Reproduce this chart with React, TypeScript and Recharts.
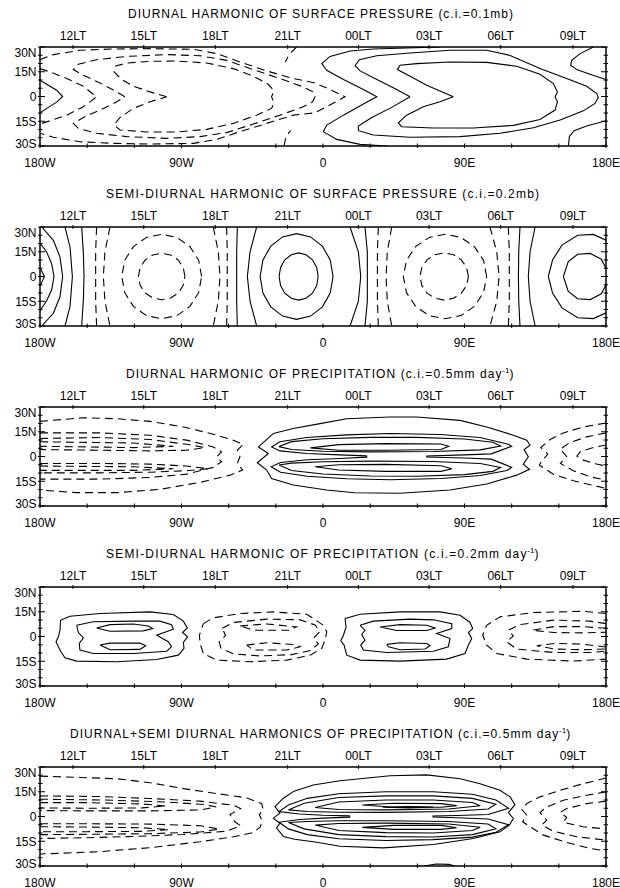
import React from 'react';
import { ComposedChart, Line, XAxis, YAxis } from 'recharts';

type C = number[][];

const FONT = '"Liberation Sans", Arial, sans-serif';

// ---------- axes ----------
const LON_TICKS = [-180, -150, -120, -90, -60, -30, 0, 30, 60, 90, 120, 150, 180];
const LON_LABELS: Record<string, string> = { '-180': '180W', '-90': '90W', '0': '0', '90': '90E', '180': '180E' };
const LT_TICKS = [-159, -114, -68.5, -22.5, 22.5, 67.5, 113, 159];
const LT_LABELS = ['12LT', '15LT', '18LT', '21LT', '00LT', '03LT', '06LT', '09LT'];
const LAT_TICKS = [-30, -25, -20, -15, -10, -5, 0, 5, 10, 15, 20, 25, 30];
const LAT_LABELS: Record<string, string> = { '30': '30N', '15': '15N', '0': '0', '-15': '15S', '-30': '30S' };

// ---------- titles ----------
const TITLES = [
  'DIURNAL HARMONIC OF SURFACE PRESSURE (c.i.=0.1mb)',
  'SEMI-DIURNAL HARMONIC OF SURFACE PRESSURE (c.i.=0.2mb)',
  'DIURNAL HARMONIC OF PRECIPITATION (c.i.=0.5mm day',
  'SEMI-DIURNAL HARMONIC OF PRECIPITATION (c.i.=0.2mm day',
  'DIURNAL+SEMI DIURNAL HARMONICS OF PRECIPITATION (c.i.=0.5mm day',
];
const TITLE_X = [128, 106, 126, 106, 70];
const TITLE_LEN = [385, 433, 375.5, 420.5, 488.3];
const TITLE_SUP = [false, false, true, true, true];

// ---------- panel 1 : diurnal surface pressure ----------
const p1SolidLeft: C = [[-180, 9.9], [-174.7, 6.8], [-169.4, 3.8], [-165.6, 0], [-169.4, -3.4], [-174.7, -6.6], [-180, -9.9]];
const p1Solid1: C = [[74.4, 30], [53.2, 29.4], [32, 28.8], [17.2, 27.6], [4.5, 24.3], [-0.8, 19.9], [2.4, 15.9], [13, 10.3], [25.7, 4.2], [34.2, -0.2], [25.7, -4.6], [13, -11.3], [2.4, -17.3], [0.2, -21.3], [8.7, -26], [23.6, -29], [40.5, -30]];
const p1Solid2: C = [[55.4, -0.2], [46.9, 4.2], [35.2, 9.9], [23.6, 15.5], [20.4, 18.7], [23.1, 22.3], [34.2, 24.7], [55.4, 26.4], [80.8, 28], [104.1, 28], [119, 24.9], [138, 16.9], [155, 10.9], [167.7, 6.2], [174.1, 1.8], [175.1, -0.6], [173, -4.2], [165.6, -8.7], [150.8, -14.3], [133.8, -18.9], [112.6, -22.3], [87.2, -24.3], [55.4, -24.7], [32, -23.3], [22.5, -20.7], [22.5, -17.9], [31, -12.7], [43.7, -6.6], [55.4, -0.2]];
const p1Solid3: C = [[82.9, -0.2], [74.4, 3.4], [66, 6.8], [55.4, 12.3], [47.3, 16.3], [49, 18.9], [59.6, 19.9], [80.8, 20.9], [104.1, 20.7], [123.2, 18.3], [138, 13.5], [146.5, 7.8], [149.1, 2.8], [147.6, -0.2], [149.1, -3.2], [147.6, -8.2], [138, -13.9], [121.1, -17.5], [95.6, -19.1], [70.2, -19.1], [50, -18.3], [47.9, -15.9], [53.2, -11.3], [63.8, -6.2], [74.4, -3.2], [82.9, -0.2]];
const p1SolidR1: C = [[172, 30], [163.5, 26], [158.2, 21.9], [157.5, 18.9], [161.4, 16.3], [169.8, 13.5], [180, 10.3]];
const p1SolidR2: C = [[156.1, -30], [156.7, -24.3], [159.7, -20.7], [167.7, -17.9], [180, -14.7]];
const p1Dash0: C = [[-180, 22.3], [-171.5, 25.4], [-154.6, 28], [-133.4, 28.8], [-110, 29], [-82.5, 28.6], [-67.6, 26], [-52.8, 20.9], [-35.8, 15.5], [-18.9, 10.9], [-5.1, 8.2], [5.5, 3.8], [14, -0.2], [5.5, -4.6], [-5.1, -9.9], [-18.9, -11.3], [-35.8, -16.3], [-52.8, -21.3], [-67.6, -26], [-82.5, -28.4], [-110, -28.8], [-133.4, -28.4], [-154.6, -27.4], [-171.5, -24.7], [-180, -22.3]];
const p1DashA: C = [[-180, 16.9], [-173.6, 14.9], [-163, 10.9], [-152.4, 6.2], [-144, -0.2], [-152.4, -6.2], [-163, -11.3], [-173.6, -14.7], [-180, -16.7]];
const p1DashB: C = [[-126, -0.2], [-132.3, 3.4], [-141.8, 8.2], [-152.4, 12.9], [-158.8, 16.3], [-155.6, 19.5], [-144, 22.3], [-124.9, 24.3], [-99.4, 25.4], [-78.2, 24.7], [-61.3, 21.9], [-44.3, 16.3], [-27.4, 10.9], [-13.6, 6.2], [-6.2, 2.8], [-5.1, -0.2], [-6.6, -3.2], [-13.6, -6.6], [-27.4, -11.3], [-44.3, -16.7], [-61.3, -21.9], [-78.2, -24.3], [-99.4, -25.4], [-124.9, -24.3], [-144, -22.3], [-155.6, -19.3], [-158.8, -16.3], [-152.4, -12.7], [-141.8, -8.2], [-132.3, -3.8], [-126, -0.2]];
const p1DashC: C = [[-99.4, -0.2], [-110, 2.8], [-120.6, 6.2], [-128, 10.3], [-132.9, 14.9], [-132.3, 18.3], [-124.9, 20.3], [-110, 21.3], [-93.1, 21.5], [-74, 20.3], [-57, 16.9], [-44.3, 12.3], [-34.8, 7.4], [-31.2, 3.4], [-32.7, -0.2], [-31.2, -3.8], [-32.7, -7.2], [-42.2, -11.3], [-57, -16.3], [-74, -19.9], [-93.1, -21.5], [-112.2, -21.5], [-129.1, -20.3], [-132.9, -17.3], [-129.1, -12.7], [-120.6, -7.2], [-110, -3.2], [-99.4, -0.2]];
const p1DashTop: C = [[-16.8, 30], [-21.4, 25.6], [-24, 20.9]];
const p1DashBot: C = [[-24.8, -30], [-23.5, -24.3], [-20.6, -20.7]];

// ---------- panel 2 : semi-diurnal surface pressure ----------
const p2SolE1: C = [[-180, 5.4], [-177.2, 0], [-180, -5.8]];
const p2SolE2: C = [[-180, 20.3], [-175.8, 14.9], [-172.6, 7.8], [-171.1, 0], [-172.6, -8.2], [-175.8, -14.7], [-180, -20.7]];
const p2SolE3: C = [[-178.9, 30], [-171.5, 21.9], [-167.3, 11.9], [-165.6, 0], [-167.3, -12.3], [-171.5, -22.3], [-178.9, -30]];
const p2SolE4: C = [[-164.1, 30], [-160.9, 17.9], [-159.4, 0], [-160.9, -18.1], [-164.1, -30]];
const p2SolE5: C = [[-153.5, 30], [-152.4, 14], [-152, 0], [-152.4, -14], [-153.5, -30]];
const p2DashW4L: C = [[-144, 30], [-144.6, 15], [-144.6, 0], [-144.6, -15], [-144, -30]];
const p2DashW3L: C = [[-135.5, 30], [-138.7, 15], [-139.7, 0], [-138.7, -15], [-135.5, -30]];
const p2DashW2: C = [[-77.2, 0], [-79.1, 9.8], [-84.6, 18.1], [-92.9, 23.7], [-102.6, 25.6], [-112.3, 23.7], [-120.6, 18.1], [-126.1, 9.8], [-128, 0], [-126.1, -9.8], [-120.6, -18.1], [-112.3, -23.7], [-102.6, -25.6], [-92.9, -23.7], [-84.6, -18.1], [-79.1, -9.8], [-77.2, 0]];
const p2DashW1: C = [[-87.8, 0], [-88.9, 5.4], [-92.1, 10], [-96.9, 13], [-102.6, 14.1], [-108.3, 13], [-113.1, 10], [-116.3, 5.4], [-117.4, 0], [-116.3, -5.4], [-113.1, -10], [-108.3, -13], [-102.6, -14.1], [-96.9, -13], [-92.1, -10], [-88.9, -5.4], [-87.8, 0]];
const p2DashW3R: C = [[-69.8, 30], [-66.6, 15], [-65.5, 0], [-66.6, -15], [-69.8, -30]];
const p2DashW4R: C = [[-61.3, 30], [-60.9, 15], [-60.9, 0], [-60.9, -15], [-61.3, -30]];
const p2SolW4L: C = [[-54.5, 30], [-54.9, 15], [-54.9, 0], [-54.9, -15], [-54.5, -30]];
const p2SolW3L: C = [[-42.2, 30], [-46.4, 15], [-48.1, 0], [-46.4, -15], [-42.2, -30]];
const p2SolW2: C = [[6.4, 0], [4.6, 10], [-0.4, 18.4], [-7.9, 24], [-16.8, 26], [-25.7, 24], [-33.2, 18.4], [-38.2, 10], [-40, 0], [-38.2, -10], [-33.2, -18.4], [-25.7, -24], [-16.8, -26], [-7.9, -24], [-0.4, -18.4], [4.6, -10], [6.4, 0]];
const p2SolW1: C = [[-3.1, 0], [-4, 5.5], [-6.7, 10.1], [-10.8, 13.2], [-15.5, 14.3], [-20.2, 13.2], [-24.3, 10.1], [-27, 5.5], [-27.9, 0], [-27, -5.5], [-24.3, -10.1], [-20.2, -13.2], [-15.5, -14.3], [-10.8, -13.2], [-6.7, -10.1], [-4, -5.5], [-3.1, 0]];
const p2SolW3R: C = [[17.2, 30], [22.5, 15], [24, 0], [22.5, -15], [17.2, -30]];
const p2SolW4R: C = [[26.7, 30], [28.2, 15], [28.2, 0], [28.2, -15], [26.7, -30]];
const p2DashE4L: C = [[35.2, 30], [34.6, 15], [34.6, 0], [34.6, -15], [35.2, -30]];
const p2DashE3L: C = [[43.7, 30], [40.9, 15], [40.1, 0], [40.9, -15], [43.7, -30]];
const p2DashE2: C = [[104.1, 0], [102.1, 9.8], [96.3, 18.1], [87.7, 23.7], [77.6, 25.6], [67.5, 23.7], [58.9, 18.1], [53.1, 9.8], [51.1, 0], [53.1, -9.8], [58.9, -18.1], [67.5, -23.7], [77.6, -25.6], [87.7, -23.7], [96.3, -18.1], [102.1, -9.8], [104.1, 0]];
const p2DashE1: C = [[92.5, 0], [91.3, 5.5], [88, 10.1], [83, 13.2], [77.1, 14.3], [71.2, 13.2], [66.2, 10.1], [62.9, 5.5], [61.7, 0], [62.9, -5.5], [66.2, -10.1], [71.2, -13.2], [77.1, -14.3], [83, -13.2], [88, -10.1], [91.3, -5.5], [92.5, 0]];
const p2DashE3R: C = [[106.2, 30], [110.5, 15], [112, 0], [110.5, -15], [106.2, -30]];
const p2DashE4R: C = [[117.9, 30], [118.5, 15], [118.5, 0], [118.5, -15], [117.9, -30]];
const p2SolF4L: C = [[125.3, 30], [124.5, 15], [124.3, 0], [124.5, -15], [125.3, -30]];
const p2SolF3L: C = [[134.9, 30], [131.7, 15], [130.6, 0], [131.7, -15], [134.9, -30]];
const p2SolF2: C = [[180, 22], [172, 25.5], [162, 25], [152, 19], [146, 10], [143.3, 0], [146, -10], [152, -19], [162, -25], [172, -25.5], [180, -22]];
const p2SolF1: C = [[180, 5], [177, 10.5], [170, 14], [162, 13.5], [156, 9], [152.9, 0], [156, -9], [162, -13.5], [170, -14], [177, -10.5], [180, -5]];

// ---------- panel 3 : diurnal precipitation ----------
const p3Dash1: C = [[-180, 21.3], [-152.4, 23.5], [-131.2, 22.9], [-110, 21.3], [-88.8, 17.9], [-69.8, 13.5], [-57, 9.9], [-50.7, 7.4], [-54.5, 3.8], [-52.8, -0.2], [-54.5, -4.2], [-51.1, -8.2], [-59.2, -11.3], [-78.2, -15.7], [-103.7, -19.9], [-131.2, -21.9], [-156.7, -21.9], [-180, -20.3]];
const p3Dash2: C = [[-180, 14.3], [-141.8, 14.3], [-110, 12.9], [-86.7, 9.9], [-69.8, 5.8], [-64.5, 2.8], [-67.6, -0.2], [-64.5, -3.2], [-69.8, -6.6], [-86.7, -10.7], [-110, -12.7], [-141.8, -13.7], [-180, -13.7]];
const p3Dash3N: C = [[-180, 10.9], [-141.8, 11.5], [-110, 10.3], [-86.7, 7.4], [-75, 5.4], [-86.7, 3.8], [-110, 3.4], [-141.8, 3.8], [-180, 4.2]];
const p3Dash3S: C = [[-180, -4.2], [-141.8, -4.2], [-110, -4.6], [-86.7, -5.8], [-73, -7.4], [-86.7, -8.6], [-110, -9.5], [-141.8, -9.9], [-180, -9.9]];
const p3Dash4N: C = [[-180, 8.9], [-120.6, 8.2], [-95.2, 6.2], [-120.6, 5.4], [-180, 6.2]];
const p3Dash4S: C = [[-180, -5.8], [-120.6, -6.2], [-95.2, -7.4], [-120.6, -8.4], [-180, -8.4]];
const p3DashR1: C = [[180, 20.3], [165.6, 17.9], [152.9, 14.3], [144.4, 10.3], [138.5, 5.4], [143, 1.5], [139, -3], [137.6, -5.2], [146.5, -10.7], [159.2, -14.7], [180, -19.3]];
const p3DashR2: C = [[180, 14.3], [167.7, 11.9], [157.1, 8.5], [150.8, 4.4], [155, 0], [151, -4.2], [159.2, -8.6], [169.8, -12.3], [180, -14.3]];
const p3DashR3: C = [[180, 7], [171.9, 5.4], [163.5, 2.8], [161.5, 0.2], [165.6, -2.2], [174, -4.6], [180, -5.8]];
const p3Sol1: C = [[-31.6, 13.9], [-18.9, 17], [-1.9, 19.9], [15, 22.9], [42.6, 23.9], [59.6, 23.9], [87.2, 21.9], [104.1, 17.9], [121.1, 12.9], [129.6, 9.9], [131.7, 6.8], [127.9, 4.2], [130.6, -0.2], [127.4, -4.6], [131.3, -7.8], [123.2, -11.3], [104.1, -16.7], [80.8, -20.3], [49, -22.3], [20, -22], [2.3, -20.3], [-18.9, -17.3], [-32.7, -13.3], [-35.8, -8.2], [-41.8, -3.8], [-34.8, 1.8], [-41.1, 5.8], [-31.6, 13.9]];
const p3Sol2: C = [[27.8, 0.4], [10.8, 1], [-10.4, 1.8], [-27.4, 3.4], [-32.7, 5.8], [-27.4, 8.9], [-10.4, 11.5], [15, 13.1], [42.6, 13.9], [74.4, 13.3], [99.8, 11.5], [117.9, 7.4], [120, 6.2], [107, 1.6], [90, 1], [66, 0.3], [66, -0.3], [90, -0.9], [107, -1.6], [120, -6.6], [117, -8.5], [100, -11.5], [75, -13.3], [43, -14.1], [15, -13.5], [-10, -12], [-27, -9.5], [-33, -6.2], [-27, -3.6], [-10, -2], [11, -1.2], [27.8, -0.4], [27.8, 0.4]];
const p3Sol3N: C = [[-28, 6], [-20, 9], [0, 10.8], [30, 11.6], [60, 11.6], [90, 10.6], [108, 8.6], [113, 6.4], [100, 4], [70, 3], [30, 2.8], [0, 3.2], [-20, 4.2], [-28, 6]];
const p3Sol4N: C = [[-8, 5.2], [10, 7.2], [40, 7.8], [75, 7.6], [80, 6.2], [75, 4.2], [40, 3.8], [10, 3.8], [-8, 5.2]];
const p3Sol3S: C = [[-28, -5.2], [-20, -8.5], [0, -10.6], [30, -11.8], [60, -12], [90, -11], [108, -9], [113, -6.6], [100, -4.2], [70, -3], [30, -2.8], [0, -3.2], [-20, -4], [-28, -5.2]];
const p3Sol4S: C = [[-5, -6.2], [10, -8.2], [40, -9], [75, -9], [82, -7.4], [75, -5.6], [40, -4.8], [10, -5], [-5, -6.2]];

// ---------- panel 4 : semi-diurnal precipitation ----------
const p4SolW1: C = [[-166.9, 9.9], [-160.9, 12.3], [-141.8, 13.9], [-110, 14.9], [-95.2, 13.3], [-88.8, 9.3], [-86.3, 5.2], [-89.3, 2.4], [-86.1, -0.2], [-88.8, -3.6], [-88.4, -7.2], [-92, -11.3], [-105.8, -13.9], [-131.2, -15.3], [-156.7, -14.9], [-164.1, -12.9], [-166.9, -8.9], [-169.8, -3.2], [-168.3, -0.2], [-167.3, 3.8], [-166.9, 9.9]];
const p4SolW2: C = [[-156.7, 6.8], [-146.1, 8.9], [-120.6, 9.3], [-103.7, 9.3], [-96.3, 7.2], [-95.2, 4.4], [-105.8, 0.8], [-98.4, -3.2], [-96.3, -6.2], [-99.4, -8.9], [-120.6, -10.3], [-146.1, -10.3], [-154.6, -8.2], [-155, -4.2], [-152.4, -0.8], [-155.6, 2.4], [-156.7, 6.8]];
const p4SolW3N: C = [[-144, 5.2], [-135.5, 7.2], [-120.6, 7.6], [-111.1, 6.4], [-108.3, 4.8], [-114.3, 3.4], [-135.5, 3.2], [-144, 5.2]];
const p4SolW3S: C = [[-141.8, -5.2], [-135.5, -4], [-116.4, -4], [-112.8, -5.6], [-116.4, -7.8], [-135.5, -8], [-141.8, -5.2]];
const p4DashW1: C = [[-76.1, 7.8], [-69.8, 11.3], [-52.8, 13.9], [-31.6, 14.9], [-10.4, 13.5], [-6.1, 10.9], [0.2, 6.8], [2.4, 2.8], [1.3, -2.2], [-0.8, -7.2], [-8.2, -11.3], [-23.1, -14.3], [-46.4, -15.3], [-67.6, -14.3], [-76.1, -10.3], [-78.2, -4.2], [-78.6, 0.8], [-76.1, 7.8]];
const p4DashW2: C = [[-64, 5], [-57, 8.5], [-36, 10.5], [-15, 10.2], [-5, 7], [-2, 3], [-6, -1], [-3, -4.5], [-8, -8.5], [-20, -11], [-40, -11.8], [-57, -10.5], [-65, -7], [-66, -3], [-62, 0.5], [-64, 5]];
const p4DashW3N: C = [[-52.8, 6.4], [-35.8, 7.6], [-16.8, 5.8], [-21, 3.8], [-44.3, 3.8], [-52.8, 6.4]];
const p4DashW3S: C = [[-48.6, -5.2], [-35.8, -3.8], [-18.9, -4.8], [-14.6, -6.2], [-23.1, -8.2], [-44.3, -8.2], [-48.6, -5.2]];
const p4SolE1: C = [[14, 10.9], [23.6, 13.5], [49, 14.9], [74.4, 14.9], [87.2, 12.9], [93.5, 8.5], [95.2, 4.8], [92.5, 2.4], [94.6, -1.2], [92.5, -5.2], [90.3, -10.3], [78.7, -13.7], [49, -14.9], [23.6, -14.3], [15.1, -11.3], [13.4, -5.2], [11.3, -2.6], [13, 0.8], [14.7, 5.8], [14, 10.9]];
const p4SolE2: C = [[23.6, 6.8], [32, 9.3], [55.4, 10.5], [70.2, 10.1], [81.9, 7.8], [81.9, 4.8], [72.3, 1.8], [80.8, -1.2], [79.7, -6.2], [70.2, -8.9], [40.5, -9.7], [25.7, -8.2], [24, -5.2], [26.7, -2.2], [24.6, 1.2], [26.7, 3.8], [23.6, 6.8]];
const p4SolE3N: C = [[36.3, 5.8], [49, 7.2], [66, 6.8], [71.3, 5.2], [66, 3.6], [46.9, 3.6], [36.3, 5.8]];
const p4SolE3S: C = [[40.5, -4.8], [49, -3.8], [66, -4.2], [68.1, -5.6], [64.9, -7.6], [49, -8], [41.6, -6.2], [40.5, -4.8]];
const p4DashE1: C = [[180, 13.9], [165.6, 15.3], [133.8, 14.5], [112.6, 11.9], [104.1, 6.8], [101.6, 0.8], [104.1, -5.2], [110.5, -10.3], [129.6, -13.7], [159.2, -14.9], [180, -13.7]];
const p4DashE2: C = [[180, 7.8], [169.8, 9.3], [146.5, 9.9], [125.3, 7.2], [117.9, 3.8], [121, 0.4], [116.8, -3.2], [123.2, -7.6], [146.5, -9.7], [169.8, -9.7], [180, -8.9]];
const p4DashE3N: C = [[180, 5], [165, 6], [147, 6], [133, 3.8], [147, 2.4], [165, 2.2], [180, 2.6]];
const p4DashE3S: C = [[180, -6.4], [165, -4.6], [147, -4.2], [136, -5.6], [147, -7.6], [165, -8], [180, -7.6]];

// ---------- panel 5 : diurnal + semi-diurnal precipitation ----------
const p5Dash1: C = [[-180, 24.5], [-163, 23.9], [-131.2, 22.9], [-110, 20.5], [-88.8, 16.9], [-67.6, 13.9], [-48.6, 11.3], [-39, 7.8], [-38, 3.8], [-40.5, 1.2], [-39, -2.2], [-39.7, -6.2], [-44.3, -9.7], [-57, -12.3], [-78.2, -15.3], [-110, -18.9], [-141.8, -21.3], [-167.3, -22.3], [-180, -22.7]];
const p5Dash2: C = [[-180, 12.5], [-141.8, 12.1], [-110, 10.9], [-78.2, 9.3], [-57, 6.8], [-52.4, 4.8], [-59.2, 1.2], [-56, -3.2], [-52.4, -5.6], [-61.3, -8.9], [-88.8, -10.9], [-120.6, -12.1], [-152.4, -12.9], [-180, -13.3]];
const p5Dash3N: C = [[-180, 10.5], [-140, 10], [-100, 8.8], [-75, 7.2], [-68, 5.8], [-78, 4], [-110, 3.4], [-150, 3.4], [-180, 3.6]];
const p5Dash3S: C = [[-180, -4.4], [-150, -4.4], [-110, -4.6], [-78, -5.6], [-66, -7.6], [-78, -9.4], [-110, -10.4], [-150, -10.8], [-180, -11]];
const p5Dash4N: C = [[-180, 8.4], [-150, 8.4], [-115, 7.6], [-100, 6.4], [-115, 5.2], [-150, 5], [-180, 5.2]];
const p5Dash4S: C = [[-180, -6.2], [-150, -6.4], [-115, -6.8], [-98, -8], [-115, -9], [-150, -9.2], [-180, -9.2]];
const p5DashR1: C = [[180, 23.3], [165.6, 19.9], [150.8, 15.9], [138, 11.9], [129.6, 7.8], [126.4, 4.4], [129.6, 0.8], [127, -3.2], [131.7, -6.2], [140.2, -11.3], [155, -15.7], [169.8, -19.3], [180, -20.9]];
const p5DashR2: C = [[180, 14.9], [167.7, 12.9], [152.9, 9.9], [142.3, 5.8], [138, 2.4], [142.3, -2.2], [139.1, -5.2], [146.5, -8.9], [161.4, -12.3], [180, -14.3]];
const p5DashR3: C = [[180, 9.3], [167.7, 7.8], [155, 4.8], [150.8, 2.4], [155, -0.5], [152.9, -3.6], [165.6, -6.2], [180, -7.6]];
const p5Sol1: C = [[-18.9, 15.1], [-6.2, 19.1], [10.8, 21.7], [42.6, 24.7], [65.9, 25.2], [87.2, 22.9], [99.9, 19.9], [112.6, 15.9], [119, 11.9], [122.1, 7.2], [117.9, 2.4], [121.1, -1.2], [118.5, -5.2], [112.6, -9.3], [95.6, -13.3], [70.2, -17], [38.4, -19], [10.8, -18], [-5, -15.5], [-18, -13.8], [-25.2, -12.1], [-29.5, -7], [-27.4, -4], [-31.6, -1], [-27.4, 2], [-30.5, 6], [-25.2, 11.1], [-18.9, 15.1]];
const p5Sol2: C = [[17, 0.4], [0, 0.8], [-15, 1.5], [-28, 3], [-22, 7], [-10, 11], [10, 13.8], [40, 15], [70, 15], [95, 13.5], [110, 10], [118, 5], [105, 1.2], [85, 0.6], [70, 0.3], [70, -0.3], [85, -0.8], [105, -1.5], [118, -5], [110, -9.5], [95, -12.5], [70, -14], [40, -14.5], [10, -13.5], [-10, -11], [-22, -7.5], [-28, -3.5], [-15, -1.8], [0, -1], [17, -0.4], [17, 0.4]];
const p5Sol3N: C = [[-22, 4], [-12, 8], [10, 11.5], [40, 12.5], [70, 12.5], [95, 11], [110, 7.5], [105, 4.5], [80, 3], [40, 2.5], [10, 2.6], [-10, 3], [-22, 4]];
const p5Sol3S: C = [[-22, -3.6], [-12, -7.5], [10, -11], [40, -12.2], [70, -12.4], [95, -11], [110, -7.5], [105, -4.5], [80, -3], [40, -2.6], [10, -2.6], [-10, -3], [-22, -3.6]];
const p5Sol4N: C = [[-5, 5.5], [10, 8.8], [40, 10], [70, 10], [95, 8.5], [100, 6.5], [80, 4.5], [40, 4], [10, 4.2], [-5, 5.5]];
const p5Sol4S: C = [[-5, -5.2], [10, -8.5], [40, -9.8], [70, -10], [95, -8.5], [100, -6.5], [80, -4.5], [40, -4], [10, -4.2], [-5, -5.2]];
const p5Sol5N: C = [[25, 7], [45, 8], [75, 7.8], [85, 6.6], [75, 5.6], [45, 5.6], [25, 7]];
const p5Sol5S: C = [[25, -6.6], [45, -7.8], [75, -7.8], [85, -6.8], [75, -5.4], [45, -5.4], [25, -6.6]];
const p5Sol6N: C = [[38, 5.6], [55, 6], [70, 5.8], [55, 5.2], [38, 5.6]];
const p5SolBump: C = [[64, -30], [72, -28.8], [80, -29], [84, -30]];

type Panel = { solid: C[]; dashed: C[] };
const PANELS: Panel[] = [
  { solid: [p1SolidLeft, p1Solid1, p1Solid2, p1Solid3, p1SolidR1, p1SolidR2], dashed: [p1Dash0, p1DashA, p1DashB, p1DashC, p1DashTop, p1DashBot] },
  { solid: [p2SolE1, p2SolE2, p2SolE3, p2SolE4, p2SolE5, p2SolW4L, p2SolW3L, p2SolW2, p2SolW1, p2SolW3R, p2SolW4R, p2SolF4L, p2SolF3L, p2SolF2, p2SolF1], dashed: [p2DashW4L, p2DashW3L, p2DashW2, p2DashW1, p2DashW3R, p2DashW4R, p2DashE4L, p2DashE3L, p2DashE2, p2DashE1, p2DashE3R, p2DashE4R] },
  { solid: [p3Sol1, p3Sol2, p3Sol3N, p3Sol4N, p3Sol3S, p3Sol4S], dashed: [p3Dash1, p3Dash2, p3Dash3N, p3Dash3S, p3Dash4N, p3Dash4S, p3DashR1, p3DashR2, p3DashR3] },
  { solid: [p4SolW1, p4SolW2, p4SolW3N, p4SolW3S, p4SolE1, p4SolE2, p4SolE3N, p4SolE3S], dashed: [p4DashW1, p4DashW2, p4DashW3N, p4DashW3S, p4DashE1, p4DashE2, p4DashE3N, p4DashE3S] },
  { solid: [p5Sol1, p5Sol2, p5Sol3N, p5Sol3S, p5Sol4N, p5Sol4S, p5Sol5N, p5Sol5S, p5Sol6N, p5SolBump], dashed: [p5Dash1, p5Dash2, p5Dash3N, p5Dash3S, p5Dash4N, p5Dash4S, p5DashR1, p5DashR2, p5DashR3] },
];

const toPts = (c: C) => c.map(([x, y]) => ({ x, y }));

// ---------- tick renderers ----------
function BottomTick(props: any) {
  const { x, y, payload } = props;
  const lab = LON_LABELS[String(payload.value)];
  return (
    <g>
      <line x1={x} y1={y} x2={x} y2={y - 4.5} stroke="#000" strokeWidth={1} />
      {lab !== undefined && (
        <text x={x} y={y + 18.5} textAnchor="middle" fontSize={12} fontFamily={FONT} fill="#000">{lab}</text>
      )}
    </g>
  );
}
function TopTick(props: any) {
  const { x, y, payload } = props;
  const i = LT_TICKS.indexOf(payload.value);
  return (
    <g>
      <line x1={x} y1={y} x2={x} y2={y + 4} stroke="#000" strokeWidth={1} />
      <text x={x} y={y - 5.5} textAnchor="middle" fontSize={12} fontFamily={FONT} fill="#000">{LT_LABELS[i]}</text>
    </g>
  );
}
function LeftTick(props: any) {
  const { x, y, payload } = props;
  const v = payload.value;
  const major = v % 15 === 0;
  const lab = LAT_LABELS[String(v)];
  const dy = v === 30 ? 9.5 : v === -30 ? 2 : 4.3;
  return (
    <g>
      <line x1={x} y1={y} x2={x + (major ? 7 : 4.5)} y2={y} stroke="#000" strokeWidth={1} />
      {lab !== undefined && (
        <text x={x - 1.5} y={y + dy} textAnchor="end" fontSize={12} fontFamily={FONT} fill="#000">{lab}</text>
      )}
    </g>
  );
}
function RightTick(props: any) {
  const { x, y, payload } = props;
  const major = payload.value % 15 === 0;
  return <line x1={x} y1={y} x2={x - (major ? 7 : 4.5)} y2={y} stroke="#000" strokeWidth={1} />;
}

const AXIS_LINE = { stroke: '#000', strokeWidth: 1.5 };

function Title({ i }: { i: number }) {
  const x0 = TITLE_X[i];
  const len = TITLE_LEN[i];
  return (
    <svg width={620} height={26} style={{ position: 'absolute', left: 0, top: 0 }}>
      <text x={x0} y={17.5} fontSize={12} fontFamily={FONT} fill="#000" textLength={len} lengthAdjust="spacing">
        {TITLES[i]}
      </text>
      {TITLE_SUP[i] && (
        <>
          <text x={x0 + len + 0.8} y={13} fontSize={8} fontFamily={FONT} fill="#000">-1</text>
          <text x={x0 + len + 8} y={17.5} fontSize={12} fontFamily={FONT} fill="#000">)</text>
        </>
      )}
    </svg>
  );
}

function ContourPanel({ panel, index }: { panel: Panel; index: number }) {
  return (
    <div style={{ position: 'absolute', left: 0, top: 180 * index, width: 620, height: 180 }}>
      <Title i={index} />
      <div style={{ position: 'absolute', left: 0, top: 0 }}>
        <ComposedChart width={620} height={180} margin={{ top: 37, right: 0, bottom: 24, left: 0 }}>
          <XAxis xAxisId="b" dataKey="x" type="number" orientation="bottom" domain={[-180, 180]} allowDataOverflow
            ticks={LON_TICKS} interval={0} height={10} tickSize={0} tickLine={false} tick={BottomTick} axisLine={AXIS_LINE} />
          <XAxis xAxisId="t" dataKey="x" type="number" orientation="top" domain={[-180, 180]} allowDataOverflow
            ticks={LT_TICKS} interval={0} height={10} tickSize={0} tickLine={false} tick={TopTick} axisLine={AXIS_LINE} />
          <YAxis yAxisId="l" type="number" orientation="left" domain={[-30, 30]} allowDataOverflow
            ticks={LAT_TICKS} interval={0} width={40} tickSize={0} tickLine={false} tick={LeftTick} axisLine={AXIS_LINE} />
          <YAxis yAxisId="r" type="number" orientation="right" domain={[-30, 30]} allowDataOverflow
            ticks={LAT_TICKS} interval={0} width={14} tickSize={0} tickLine={false} tick={RightTick} axisLine={AXIS_LINE} />
          {panel.solid.map((c, k) => (
            <Line key={'s' + k} xAxisId="b" yAxisId="l" data={toPts(c)} dataKey="y" type="linear" dot={false} activeDot={false}
              stroke="#000" strokeWidth={1.1} isAnimationActive={false} legendType="none" />
          ))}
          {panel.dashed.map((c, k) => (
            <Line key={'d' + k} xAxisId="b" yAxisId="l" data={toPts(c)} dataKey="y" type="linear" dot={false} activeDot={false}
              stroke="#000" strokeWidth={1.1} strokeDasharray="8 5" isAnimationActive={false} legendType="none" />
          ))}
        </ComposedChart>
      </div>
    </div>
  );
}

export default function App() {
  return (
    <div style={{ position: 'absolute', left: 0, top: 0, width: 620, height: 888, background: '#fff' }}>
      {PANELS.map((p, i) => (
        <ContourPanel key={i} panel={p} index={i} />
      ))}
    </div>
  );
}
